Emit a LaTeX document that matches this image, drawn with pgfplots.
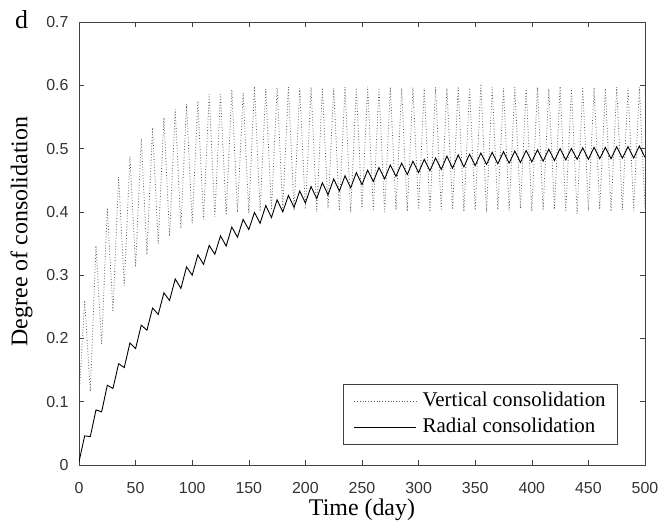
\documentclass[border=0pt]{standalone}
\usepackage{pgfplots}
\pgfplotsset{compat=1.18}
\usepackage{fontspec}
\setmainfont{Liberation Serif}
\newfontfamily\ticksf{Liberation Sans}
\definecolor{axgray}{HTML}{404040}
\definecolor{tickgray}{HTML}{333333}
\definecolor{dotgray}{HTML}{5a5a5a}
\begin{document}
\begin{tikzpicture}
\begin{axis}[
  scale only axis,
  width=566bp, height=443bp,
  xmin=0, xmax=500, ymin=0, ymax=0.7,
  xtick={0,50,...,500},
  ytick={0,0.1,...,0.7},
  scaled y ticks=false,
  yticklabel style={/pgf/number format/fixed,/pgf/number format/precision=1},
  /pgf/number format/assume math mode=true,
  tick label style={font=\fontsize{16}{16}\selectfont\ticksf, text=tickgray},
  xticklabel style={yshift=-14bp},
  yticklabel style={xshift=-7bp},
  tick align=inside,
  major tick length=5bp,
  axis line style={axgray, line width=0.7bp},
  every tick/.style={axgray, line width=0.6bp},
  xlabel={Time (day)},
  ylabel={Degree of consolidation},
  label style={font=\fontsize{24}{24}\selectfont},
  xlabel style={yshift=2bp},
  ylabel style={yshift=7bp, xshift=12bp},
  legend cell align=left,
  legend style={at={(1,0)}, anchor=south east, xshift=-27bp, yshift=20bp,
    font=\fontsize{21}{21}\selectfont, draw=axgray, line width=0.7bp,
    inner xsep=10bp, inner ysep=4bp, row sep=0bp,
    nodes={text height=14bp, text depth=4bp, inner ysep=4bp}},
  legend image code/.code={\draw[#1] (0bp,0bp) -- (62bp,0bp); \path (66bp,0bp);},
]
\addplot[dotgray, dotted, line width=0.8bp] coordinates {
(0.5,0.12) (5,0.26) (10,0.116) (15,0.347) (20,0.19) (25,0.406) (30,0.242) (35,0.455)
(40,0.283) (45,0.487) (50,0.313) (55,0.516) (60,0.333) (65,0.533) (70,0.350) (75,0.549)
(80,0.362) (85,0.562) (90,0.374) (95,0.570) (100,0.382) (105,0.575) (110,0.388) (115,0.586)
(120,0.392) (125,0.586) (130,0.395) (135,0.593) (140,0.399) (145,0.588) (150,0.398) (155,0.598)
(160,0.401) (165,0.594) (170,0.403) (175,0.596) (180,0.405) (185,0.597) (190,0.402) (195,0.595)
(200,0.404) (205,0.597) (210,0.400) (215,0.596) (220,0.405) (225,0.595) (230,0.402) (235,0.597)
(240,0.399) (245,0.596) (250,0.404) (255,0.598) (260,0.402) (265,0.596) (270,0.400) (275,0.597)
(280,0.403) (285,0.595) (290,0.401) (295,0.597) (300,0.404) (305,0.596) (310,0.400) (315,0.597)
(320,0.402) (325,0.595) (330,0.404) (335,0.598) (340,0.401) (345,0.596) (350,0.403) (355,0.602)
(360,0.400) (365,0.597) (370,0.404) (375,0.595) (380,0.402) (385,0.597) (390,0.405) (395,0.596)
(400,0.401) (405,0.597) (410,0.403) (415,0.595) (420,0.404) (425,0.598) (430,0.400) (435,0.596)
(440,0.397) (445,0.597) (450,0.402) (455,0.596) (460,0.404) (465,0.595) (470,0.401) (475,0.597)
(480,0.403) (485,0.596) (490,0.402) (495,0.597) (500,0.405)
};
\addlegendentry{Vertical consolidation}
\addplot[black, line width=0.9bp] coordinates {
(0,0.005) (5,0.046) (10,0.045) (15,0.087) (20,0.084) (25,0.126) (30,0.121) (35,0.160)
(40,0.154) (45,0.193) (50,0.184) (55,0.221) (60,0.213) (65,0.248) (70,0.238) (75,0.272)
(80,0.260) (85,0.294) (90,0.279) (95,0.313) (100,0.300) (105,0.332) (110,0.317) (115,0.347)
(120,0.333) (125,0.362) (130,0.346) (135,0.376) (140,0.360) (145,0.388) (150,0.372) (155,0.399)
(160,0.382) (165,0.410) (170,0.391) (175,0.419) (180,0.400) (185,0.426) (190,0.407) (195,0.433)
(200,0.414) (205,0.440) (210,0.421) (215,0.446) (220,0.427) (225,0.452) (230,0.433) (235,0.457)
(240,0.438) (245,0.462) (250,0.443) (255,0.466) (260,0.448) (265,0.470) (270,0.452) (275,0.474)
(280,0.456) (285,0.477) (290,0.459) (295,0.480) (300,0.462) (305,0.483) (310,0.465) (315,0.485)
(320,0.467) (325,0.488) (330,0.469) (335,0.490) (340,0.471) (345,0.491) (350,0.473) (355,0.493)
(360,0.475) (365,0.494) (370,0.476) (375,0.495) (380,0.477) (385,0.496) (390,0.478) (395,0.497)
(400,0.479) (405,0.498) (410,0.480) (415,0.499) (420,0.481) (425,0.500) (430,0.482) (435,0.500)
(440,0.483) (445,0.501) (450,0.483) (455,0.502) (460,0.484) (465,0.502) (470,0.484) (475,0.503)
(480,0.485) (485,0.503) (490,0.485) (495,0.504) (500,0.486)
};
\addlegendentry{Radial consolidation}
\coordinate (sw) at (rel axis cs:0,0);
\coordinate (ne) at (rel axis cs:1,1);
\end{axis}
\node[anchor=base west, font=\fontsize{26}{26}\selectfont, inner sep=0pt] at ([xshift=-64bp,yshift=-7bp]sw |- ne) {d};
\pgfresetboundingbox
\path[use as bounding box] ([xshift=-79bp,yshift=-62bp]sw) rectangle ([xshift=16bp,yshift=22bp]ne);
\end{tikzpicture}
\end{document}
